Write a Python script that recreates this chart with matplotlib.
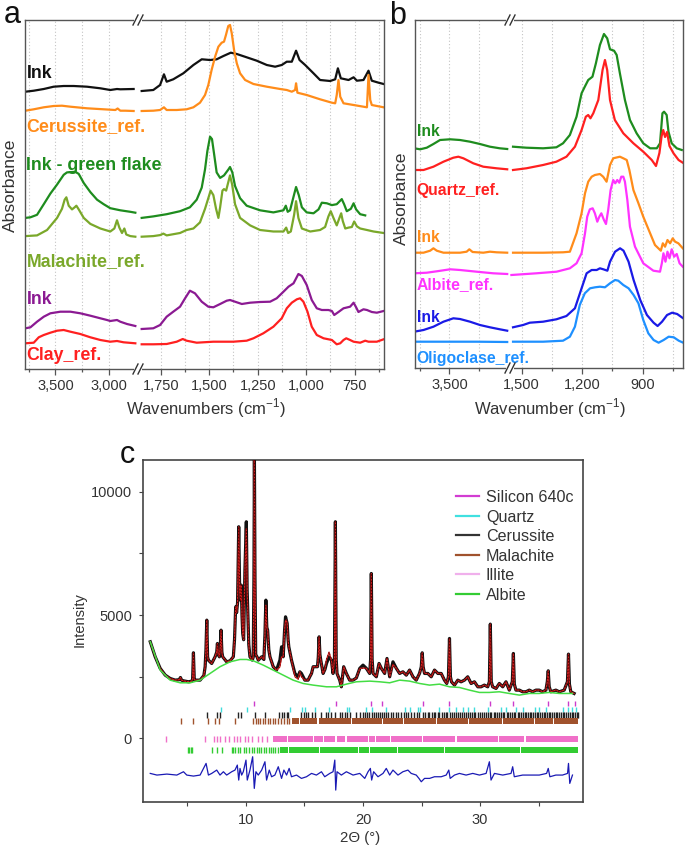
import matplotlib
matplotlib.use("Agg")
import matplotlib.pyplot as plt
from matplotlib.lines import Line2D
from matplotlib.patches import Rectangle
from matplotlib.ticker import FixedLocator

plt.rcParams['font.family'] = ['Liberation Sans', 'DejaVu Sans']
plt.rcParams['mathtext.fontset'] = 'custom'
plt.rcParams['mathtext.rm'] = 'Liberation Sans'

W, H = 685, 851

# ---------------- Panel a data (wavenumber cm-1, absorbance a.u.) ----------------
a_ink1_Lw = [3781, 3703, 3609, 3516, 3422, 3328, 3203, 3078, 2985, 2922, 2891, 2766]
a_ink1_Ly = [277.3, 278.3, 280, 282.3, 283, 283, 282.3, 280.7, 279, 280, 279.7, 280]
a_ink1_Rw = [1849, 1789, 1754, 1734, 1720, 1686, 1634, 1582, 1539, 1496, 1462, 1427, 1389, 1358, 1307, 1255,
             1203, 1160, 1126, 1100, 1074, 1052, 1034, 1005, 962, 928, 876, 850, 836, 821, 781, 755, 738, 704,
             678, 661, 626, 600]
a_ink1_Ry = [278, 279, 284, 294.7, 287.3, 289.7, 295.7, 304, 309.7, 309, 309.7, 313, 316.3, 315, 311.7, 308.3,
             304, 302.3, 304, 307.3, 307.3, 318.3, 309, 304, 295.7, 289, 288, 289.7, 300.7, 290.7, 289, 291.7,
             288.3, 289, 298.3, 288.3, 286.3, 285]

a_cer_Lw = [3781, 3703, 3609, 3516, 3438, 3359, 3203, 3047, 2938, 2916, 2891, 2844, 2766]
a_cer_Ly = [258.3, 259.7, 261.7, 263, 263.3, 262.3, 260.7, 259.7, 259, 260.5, 258.3, 258.3, 258]
a_cer_Rw = [1849, 1789, 1754, 1734, 1720, 1668, 1617, 1582, 1548, 1522, 1505, 1488, 1470, 1453, 1436, 1424,
            1414, 1402, 1393, 1384, 1372, 1358, 1341, 1315, 1272, 1203, 1134, 1100, 1074, 1057, 1052, 1045,
            997, 928, 867, 850, 842, 833, 824, 807, 755, 704, 686, 678, 669, 661, 635, 600]
a_cer_Ry = [258, 258.3, 259, 261.7, 259, 259, 259.7, 261.7, 266.3, 274, 284, 299, 312.3, 322.3, 326.3, 327.3,
            334, 343, 344, 335.7, 319, 305.7, 295.7, 289, 285, 282.3, 280, 279, 277.3, 279, 285.7, 276.3,
            274, 269.7, 266.3, 265.7, 274, 289, 272.3, 265.7, 264, 262.3, 261.7, 294, 269, 264, 263, 261.7]

a_gink_Lw = [3781, 3734, 3672, 3609, 3547, 3484, 3422, 3391, 3313, 3281, 3234, 3172, 3109, 3047, 2985, 2891,
             2797, 2750]
a_gink_Ly = [151.1, 151.7, 154.2, 164.8, 175.4, 184.5, 194.2, 196.6, 197.2, 195.1, 186, 176.9, 169.3, 164.8,
             160.8, 158.7, 157.2, 156.3]
a_gink_Rw = [1849, 1789, 1720, 1651, 1600, 1565, 1539, 1522, 1510, 1496, 1486, 1475, 1462, 1444, 1424, 1401,
             1393, 1381, 1367, 1341, 1307, 1238, 1169, 1117, 1105, 1095, 1083, 1065, 1052, 1038, 1022, 997,
             962, 936, 919, 893, 867, 842, 816, 804, 790, 769, 755, 742, 721, 695]
a_gink_Ry = [151.1, 152.6, 154.8, 157.8, 161.7, 169.3, 181.4, 199.6, 217.8, 232.3, 229.9, 214.8, 196.6, 191.1,
             193.6, 199.6, 202, 196.6, 183, 170.8, 163.3, 158.7, 156.6, 158.7, 163.3, 157.2, 158.7, 172.3, 182,
             173.9, 161.7, 156.6, 155.7, 159.6, 166.3, 165.7, 163.9, 164.8, 169.9, 164.8, 157.8, 160.2, 165.7,
             159.6, 154.8, 153.6]

a_mal_Lw = [3781, 3672, 3578, 3484, 3438, 3413, 3397, 3375, 3344, 3319, 3303, 3281, 3234, 3172, 3078, 2985,
            2947, 2922, 2900, 2875, 2853, 2835, 2797, 2750]
a_mal_Ly = [132.9, 133.6, 139, 151.1, 160.2, 169.3, 171.7, 163.3, 159.6, 161.7, 163.3, 159.6, 151.1, 145.1,
            140.5, 137.5, 140.5, 148.7, 141.4, 136, 140.5, 134.5, 132.9, 132.3]
a_mal_Rw = [1849, 1789, 1754, 1737, 1720, 1651, 1617, 1582, 1548, 1522, 1505, 1493, 1479, 1465, 1453, 1444,
            1432, 1424, 1413, 1403, 1393, 1382, 1367, 1341, 1289, 1238, 1169, 1117, 1103, 1093, 1079, 1062,
            1052, 1040, 1022, 979, 928, 902, 885, 873, 859, 842, 828, 819, 811, 798, 781, 764, 752, 738, 721,
            686, 652, 600]
a_mal_Ry = [132.3, 132.9, 133.9, 135.4, 133.6, 136, 139, 140.5, 146.6, 160.2, 170.8, 178.4, 173.9, 160.2,
            151.1, 161.7, 178.4, 179.9, 178.4, 186, 193.6, 184.5, 164.8, 151.1, 143.6, 139, 137.5, 137.5,
            141.4, 136, 137.5, 154.2, 167.8, 151.1, 140.5, 137.5, 139, 142, 152.6, 157.8, 151.1, 143.6, 151.1,
            155.7, 148.1, 140.5, 141.4, 142, 147.5, 142.6, 140.5, 139, 137.5, 136]

a_pink_Lw = [3781, 3734, 3672, 3609, 3547, 3453, 3359, 3266, 3172, 3078, 3016, 2985, 2922, 2891, 2828, 2750]
a_pink_Ly = [40.7, 41.7, 47.3, 52.3, 55.7, 57.3, 57.3, 55.7, 53.3, 50.7, 49, 48, 49, 47.3, 45, 43]
a_pink_Rw = [1849, 1789, 1754, 1720, 1686, 1651, 1625, 1600, 1574, 1539, 1505, 1479, 1444, 1410, 1393, 1367,
             1332, 1289, 1238, 1186, 1152, 1117, 1091, 1065, 1040, 1022, 997, 971, 945, 919, 885, 867, 855,
             833, 807, 773, 755, 742, 730, 704, 686, 661, 635, 600]
a_pink_Ry = [40, 40.7, 44, 52.3, 57.3, 62.3, 70.7, 78.3, 75.7, 67.3, 62.3, 61.7, 65, 68.3, 69, 67.3, 65, 66.3,
             67, 67.3, 70.7, 77.3, 82.3, 85.7, 95, 93, 84, 69, 60.7, 59, 59, 58, 54, 57, 60.7, 62.3, 66.3, 61.7,
             57, 59.7, 59, 57, 56.3, 58]

a_clay_Lw = [3781, 3703, 3656, 3609, 3547, 3484, 3422, 3359, 3266, 3172, 3078, 2985, 2922, 2860, 2750]
a_clay_Ly = [25.7, 26.3, 31.7, 34, 36.3, 38.3, 39, 37.3, 35, 31.7, 29, 27.3, 28, 26.7, 25.7]
a_clay_Rw = [1849, 1789, 1720, 1668, 1637, 1617, 1565, 1479, 1376, 1307, 1272, 1221, 1169, 1126, 1100, 1074,
             1048, 1031, 1014, 993, 971, 945, 910, 867, 842, 824, 807, 793, 773, 755, 721, 695, 678, 635, 600]
a_clay_Ry = [24.7, 24.7, 25, 27.3, 30, 28.3, 26.3, 27.3, 27.3, 28.3, 30.7, 35.7, 42.3, 50.7, 60.7, 66.3, 69.7,
             70.7, 67.3, 57.3, 42.3, 34, 30.7, 29, 24.7, 25.7, 29, 30.7, 29, 27.3, 26.3, 28.3, 27.3, 27.3, 29.7]

a_labels = ["Ink", "Cerussite_ref.", "Ink - green flake", "Malachite_ref.", "Ink", "Clay_ref."]
a_L_ticks = [3500, 3000]
a_L_ticklabels = ["3,500", "3,000"]
a_L_minor = [3750, 3250]
a_R_ticks = [1750, 1500, 1250, 1000, 750]
a_R_ticklabels = ["1,750", "1,500", "1,250", "1,000", "750"]
a_R_minor = [1625, 1375, 1125, 875, 625]

# ---------------- Panel b data ----------------
b_gink_Lw = [3802, 3751, 3694, 3637, 3580, 3494, 3409, 3323, 3238, 3152, 3067, 3004]
b_gink_Ly = [219.7, 218.7, 220.3, 224, 228, 228.7, 228, 226.3, 224, 221.3, 219.7, 219]
b_gink_Rw = [1543, 1477, 1394, 1328, 1295, 1261, 1228, 1203, 1187, 1170, 1159, 1149, 1132, 1112, 1092, 1076,
             1062, 1042, 1029, 1013, 988, 963, 930, 897, 863, 830, 814, 802, 794, 781, 772, 756, 731, 706]
b_gink_Ry = [221.3, 220.3, 219.7, 220.7, 224.7, 233, 251.3, 274.7, 281.3, 288, 289.7, 291.3, 304.7, 323, 334,
             329.7, 318.7, 317.3, 313, 294.7, 268, 248, 234.7, 224.7, 219.7, 219.7, 224.7, 254.7, 256.3, 253,
             236.3, 224.7, 219.7, 218]

b_qtz_Lw = [3802, 3722, 3637, 3551, 3466, 3423, 3380, 3295, 3209, 3095, 3004]
b_qtz_Ly = [198, 198, 201.3, 206.3, 210.3, 211.3, 209.7, 204.7, 201.3, 199.7, 198.7]
b_qtz_Rw = [1543, 1477, 1394, 1328, 1278, 1236, 1203, 1182, 1170, 1159, 1145, 1120, 1099, 1087, 1076, 1062,
            1038, 996, 946, 897, 855, 834, 817, 806, 798, 789, 779, 767, 747, 722, 701]
b_qtz_Ry = [198, 199.7, 203, 206.3, 211.3, 221.3, 238, 251.3, 253, 249.7, 254.7, 268, 298, 308, 298, 268, 248,
            234.7, 224.7, 216.3, 208, 202, 215, 232, 238, 231, 236, 222, 214.7, 208, 205.3]

b_oink_Lw = [3802, 3722, 3665, 3637, 3608, 3551, 3409, 3352, 3329, 3301, 3209, 3152, 3095, 3004]
b_oink_Ly = [115.3, 115.3, 117.3, 119.7, 117.3, 115.3, 115.3, 116.3, 118.7, 116, 115.3, 116.3, 115.7, 115.3]
b_oink_Rw = [1543, 1394, 1295, 1261, 1228, 1203, 1186, 1170, 1153, 1137, 1112, 1096, 1079, 1062, 1046, 1013,
             996, 979, 966, 946, 921, 897, 863, 839, 810, 800, 789, 777, 764, 751, 739, 723, 701]
b_oink_Ry = [115.3, 115.3, 115.7, 116.3, 134.7, 154.7, 174.7, 186.3, 191.3, 193, 194, 191.3, 186.3, 203, 209.7,
             211.3, 209.7, 208, 198, 178, 164.7, 151.3, 134.7, 123, 117.3, 124.7, 121.3, 128, 124.7, 129.7,
             126.3, 124.7, 119.7]

b_alb_Lw = [3802, 3694, 3608, 3494, 3409, 3266, 3124, 3004]
b_alb_Ly = [94.7, 95.3, 96.7, 98.7, 98, 96.3, 94.7, 94]
b_alb_Rw = [1551, 1427, 1327, 1261, 1228, 1203, 1186, 1175, 1162, 1148, 1137, 1125, 1115, 1105, 1092, 1082,
            1071, 1059, 1046, 1036, 1026, 1016, 1006, 996, 988, 976, 963, 938, 897, 847, 814, 805, 797, 787,
            777, 767, 756, 744, 731, 717, 701]
b_alb_Ry = [93, 94.7, 96.3, 99.7, 104.7, 114.7, 134.7, 151.3, 158.7, 159.7, 154.7, 146.3, 151.3, 154.7, 148,
            144, 158, 178, 188, 184.7, 188, 185.3, 191.3, 191.3, 186.3, 168, 141.3, 121.3, 104.7, 97.3, 96.3,
            104.7, 114.7, 106.3, 116.3, 109.7, 118.7, 111.3, 114, 104.7, 101.3]

b_bink_Lw = [3802, 3722, 3637, 3551, 3466, 3409, 3323, 3238, 3152, 3067, 3004]
b_bink_Ly = [36.3, 38, 41.3, 46.3, 49.7, 49, 46.3, 43, 40.7, 38.7, 37.3]
b_bink_Rw = [1543, 1493, 1460, 1394, 1328, 1278, 1236, 1203, 1178, 1153, 1128, 1112, 1095, 1075, 1062, 1037,
             1012, 995, 970, 945, 912, 879, 846, 826, 804, 779, 754, 729, 699]
b_bink_Ry = [40.7, 43, 45.3, 46.3, 48.7, 52, 59.7, 79.7, 94.7, 98, 98, 99.7, 98.7, 97.3, 106.3, 116.3, 119.7,
             117.3, 106.3, 88, 68, 53, 45.3, 42, 46.3, 53, 55.3, 54, 49.7]

b_olig_Lw = [3802, 3551, 3266, 3004]
b_olig_Ly = [26.3, 26.3, 26.3, 26]
b_olig_Rw = [1543, 1394, 1295, 1261, 1236, 1212, 1187, 1161, 1136, 1112, 1087, 1062, 1037, 1021, 996, 970, 945,
             921, 897, 872, 846, 821, 796, 771, 746, 721, 699]
b_olig_Ry = [26.3, 26.3, 27.3, 31.3, 41.3, 63, 74.7, 79.7, 80.7, 81.3, 80.7, 84.7, 88, 87.3, 83, 79.7, 73, 64.7,
             48, 34.7, 28, 25.3, 28, 31.3, 30.7, 27.3, 25.3]

b_labels = ["Ink", "Quartz_ref.", "Ink", "Albite_ref.", "Ink", "Oligoclase_ref."]
b_L_ticks = [3500]
b_L_ticklabels = ["3,500"]
b_L_minor = [3750, 3250]
b_R_ticks = [1500, 1200, 900]
b_R_ticklabels = ["1,500", "1,200", "900"]
b_R_minor = [1350, 1050, 750]

# ---------------- Panel c data (2theta deg, intensity) ----------------
xrd_2theta = [1.82, 2.24, 2.67, 3.10, 3.52, 3.95, 4.30, 4.40, 4.50, 4.66,
              5.09, 5.37, 5.44, 5.51, 5.58, 5.65, 6.08, 6.40, 6.51, 6.58,
              6.65, 6.72, 6.79, 7.07, 7.36, 7.50, 7.56, 7.63, 7.73, 7.80,
              7.87, 7.94, 8.01, 8.35, 8.64, 8.92, 9.02, 9.12, 9.20, 9.28,
              9.38, 9.46, 9.53, 9.60, 9.66, 9.72, 9.80, 9.91, 10.03, 10.10,
              10.16, 10.24, 10.34, 10.54, 10.62, 10.68, 10.72, 10.77, 10.83, 10.95,
              11.05, 11.34, 11.53, 11.62, 11.70, 11.78, 11.85, 11.95, 12.05, 12.33,
              12.61, 12.90, 13.04, 13.18, 13.30, 13.38, 13.45, 13.52, 13.60, 13.66,
              13.89, 14.18, 14.46, 14.60, 14.74, 15.03, 15.31, 15.45, 15.60, 15.74,
              15.94, 16.11, 16.18, 16.25, 16.32, 16.39, 16.59, 16.75, 16.88, 17.10,
              17.30, 17.44, 17.56, 17.64, 17.71, 17.78, 18.01, 18.15, 18.25, 18.35,
              18.58, 18.86, 19.15, 19.43, 19.72, 20.00, 20.29, 20.57, 20.65, 20.71,
              20.78, 20.86, 21.14, 21.37, 21.57, 21.85, 22.05, 22.28, 22.56, 22.85,
              23.13, 23.41, 23.70, 23.98, 24.27, 24.55, 24.83, 24.98, 25.06, 25.14,
              25.26, 25.54, 25.83, 26.11, 26.40, 26.68, 26.96, 27.16, 27.30, 27.39,
              27.47, 27.56, 27.82, 28.10, 28.38, 28.67, 28.95, 29.24, 29.52, 29.81,
              30.09, 30.37, 30.66, 30.80, 30.88, 30.96, 31.08, 31.37, 31.65, 31.94,
              32.22, 32.50, 32.76, 32.85, 32.93, 33.07, 33.36, 33.64, 33.92, 34.21,
              34.49, 34.78, 35.06, 35.34, 35.63, 35.75, 35.83, 35.91, 36.05, 36.48,
              36.77, 37.19, 37.47, 37.56, 37.64, 37.76, 38.04]
xrd_obs = [3917, 3311, 2838, 2565, 2430, 2362, 2380, 2470, 2360, 2335,
           2295, 2322, 2400, 3471, 2400, 2362, 2362, 2550, 2906, 3600,
           4795, 3300, 3173, 3038, 3308, 3500, 3849, 3400, 3308, 3700,
           4390, 3500, 3308, 3105, 3146, 3308, 4000, 5336, 5100, 5500,
           8582, 6000, 5600, 6214, 5000, 4254, 4000, 6822, 8785, 6000,
           5000, 3800, 3308, 3173, 3300, 6500, 11400, 6500, 3400, 3300,
           3173, 3308, 3200, 4200, 5606, 4500, 4390, 3600, 3308, 2906,
           2768, 3173, 3714, 3308, 4400, 4930, 4800, 4660, 4000, 3714,
           3173, 2633, 2500, 2700, 2633, 2362, 2362, 2500, 2633, 2906,
           2906, 2906, 3300, 4119, 3400, 3173, 2633, 2800, 3038, 3308,
           3173, 2633, 3200, 8785, 3200, 2633, 2362, 2092, 2500, 2906,
           2633, 2362, 2362, 2450, 2838, 2970, 2838, 2633, 3200, 6687,
           3200, 2633, 2498, 3038, 2838, 2633, 3241, 2498, 3105, 2838,
           2633, 2700, 2565, 2770, 2498, 2362, 2633, 2900, 3471, 2900,
           2633, 2633, 2498, 2770, 2633, 2633, 2362, 2227, 2500, 4052,
           2500, 2295, 2160, 2362, 2295, 2362, 2498, 2227, 2295, 2092,
           2092, 2160, 2092, 2300, 4633, 2300, 2092, 2025, 2227, 2092,
           2295, 1957, 2300, 3443, 2200, 1957, 1957, 1890, 1890, 1957,
           1890, 1957, 1957, 1890, 1957, 2300, 2741, 2100, 1890, 1957,
           1890, 1957, 2300, 3417, 2200, 1890, 1822]
xrd_calc = [3917, 3311, 2838, 2565, 2430, 2362, 2380, 2470, 2360, 2335,
            2295, 2322, 2400, 3471, 2400, 2362, 2362, 2550, 2906, 3600,
            4795, 3300, 3173, 3038, 3308, 3500, 3849, 3400, 3308, 3700,
            4390, 3500, 3308, 3105, 3146, 3308, 4000, 5336, 5100, 5500,
            8582, 6000, 5600, 6214, 5000, 4254, 4000, 6822, 8500, 6000,
            5000, 3800, 3308, 3173, 3300, 6500, 11400, 6500, 3400, 3300,
            3173, 3308, 3200, 4200, 5400, 4500, 4390, 3600, 3308, 2906,
            2768, 2900, 3300, 3308, 4400, 4750, 4800, 4660, 4000, 3714,
            3173, 2500, 2400, 2700, 2500, 2362, 2362, 2500, 2633, 2906,
            2906, 2906, 3300, 4119, 3400, 3173, 2633, 2800, 3200, 3500,
            3173, 2633, 3200, 8785, 3200, 2633, 2362, 2092, 2500, 2906,
            2633, 2362, 2362, 2450, 2838, 2850, 2838, 2633, 3200, 6687,
            3200, 2633, 2498, 3038, 2838, 2633, 3241, 2498, 3000, 2838,
            2633, 2700, 2565, 2770, 2498, 2362, 2633, 2900, 3471, 2900,
            2633, 2633, 2498, 2770, 2633, 2633, 2362, 2227, 2500, 4052,
            2500, 2295, 2160, 2362, 2295, 2362, 2498, 2227, 2295, 2092,
            2092, 2160, 2092, 2300, 4633, 2300, 2092, 2025, 2227, 2092,
            2295, 1957, 2300, 3443, 2200, 1957, 1957, 1890, 1890, 1957,
            1890, 1957, 1957, 1890, 1957, 2300, 2741, 2100, 1890, 1957,
            1890, 1957, 2300, 3417, 2200, 1890, 1822]

bg_2theta = [1.82, 2.67, 3.52, 4.38, 5.23, 6.08, 6.93, 7.78, 8.64, 9.49, 10.06, 10.63, 11.48, 12.33, 13.18,
             14.03, 14.88, 15.74, 16.88, 17.73, 18.58, 19.43, 20.57, 21.42, 22.28, 23.13, 23.98, 24.83, 25.69,
             26.54, 27.39, 28.24, 29.10, 29.95, 30.80, 31.65, 32.50, 33.36, 34.21, 35.06, 35.91, 36.77, 37.90]
bg_I = [3917, 2770, 2362, 2254, 2254, 2362, 2633, 2906, 3105, 3200, 3200, 3146, 2970, 2768, 2565, 2362, 2227,
        2160, 2092, 2092, 2200, 2295, 2322, 2295, 2254, 2362, 2322, 2227, 2160, 2200, 2092, 2065, 1957, 1863,
        1863, 1890, 1822, 1755, 1822, 1822, 1863, 1822, 1822]

diff_2theta = [1.82, 2.39, 3.24, 4.09, 4.66, 4.94, 5.51, 6.08, 6.59, 6.79,
               7.07, 7.50, 7.78, 8.07, 8.35, 8.78, 9.06, 9.26, 9.38, 9.49,
               9.63, 9.77, 10.00, 10.11, 10.34, 10.57, 10.71, 10.85, 11.05, 11.34,
               11.62, 11.76, 11.99, 12.19, 12.47, 12.76, 13.04, 13.24, 13.47, 13.69,
               13.89, 14.32, 14.74, 15.17, 15.60, 16.02, 16.45, 16.73, 17.16, 17.44,
               17.59, 17.67, 17.78, 18.15, 18.58, 19.15,
               19.72, 20.15, 20.43, 20.63, 20.74, 20.91, 21.28, 21.71, 21.99, 22.28,
               22.56, 22.99, 23.41, 23.84, 24.12, 24.55, 24.78, 24.98, 25.26, 25.69,
               26.11, 26.68, 27.11, 27.33, 27.45, 27.82, 28.24, 28.81, 29.38, 29.95,
               30.52, 30.80, 30.94, 31.23, 31.94, 32.65, 32.79, 32.93, 33.64, 34.49,
               35.06, 35.69, 35.83, 35.97, 36.48, 37.05, 37.48, 37.56, 37.67, 37.90]
diff_I = [-1421, -1488, -1448, -1488, -1353, -1488, -1529, -1488, -1015, -1488,
          -1421, -1286, -1488, -1353, -1488, -1353, -1286, -1083, -1691, -1218,
          -1488, -1353, -880, -1691, -1286, -745, -2029, -1353, -1488, -1286,
          -948, -1691, -1286, -1556, -1488, -1150, -1623, -1286, -1488, -1218,
          -1556, -1488, -1623, -1556, -1421, -1488, -1353, -1556, -1421, -1353,
          -880, -2097, -1353, -1488, -1353, -1488,
          -1421, -1623, -1353, -1218, -1691, -1353, -1556, -1421, -1218, -1488,
          -1286, -1488, -1353, -1286, -1421, -1488, -1623, -1759, -1623, -1623,
          -1556, -1556, -1488, -1286, -1623, -1488, -1421, -1488, -1421, -1488,
          -1421, -948, -1691, -1421, -1488, -1421, -1150, -1556, -1488, -1488,
          -1488, -1421, -1218, -1556, -1488, -1488, -1421, -1015, -1826, -1488]

si_pos = [10.71, 17.65, 20.72, 21.65, 25.12, 27.39, 30.89, 32.85, 35.83, 37.56, 38.13]
qz_pos = [7.84, 10.06, 13.75, 14.80, 15.08, 15.88, 17.07, 18.64, 18.78, 20.28, 20.80, 22.00, 23.56, 23.98,
          24.69, 24.83, 26.48, 27.33, 27.96, 28.53, 28.95, 29.52, 30.66, 31.79, 32.22, 33.07, 33.64, 34.72,
          35.06, 35.63, 37.11, 37.48, 37.90, 38.24]
cer_pos = [6.65, 7.56, 7.78, 9.35, 9.55, 10.77, 11.62, 12.84, 13.04, 13.24, 13.47, 13.61, 14.74, 14.94, 15.17,
           15.31, 15.60, 15.88, 16.45, 16.88, 17.02, 17.30, 17.58, 18.01, 18.24, 18.44, 18.64, 18.86, 19.43,
           19.72, 20.02, 20.21, 20.38, 20.55, 20.74, 20.93, 21.08, 21.31, 21.43, 21.62, 21.78, 21.95, 22.12,
           22.41, 22.58, 22.83, 22.97, 23.22, 23.48, 23.71, 23.88, 24.14, 24.37, 24.62, 24.81, 25.09, 25.28,
           25.52, 25.68, 25.86, 26.03, 26.18, 26.37, 26.52, 26.71, 26.88, 27.06, 27.22, 27.41, 27.63, 27.79,
           27.94, 28.12, 28.28, 28.47, 28.62, 28.79, 28.96, 29.13, 29.28, 29.47, 29.61, 29.82, 29.98, 30.17,
           30.31, 30.52, 30.64, 30.83, 30.98, 31.16, 31.29, 31.47, 31.62, 31.78, 31.96, 32.08, 32.27, 32.41,
           32.58, 32.74, 32.92, 33.03, 33.21, 33.37, 33.49, 33.66, 33.81, 33.93, 34.12, 34.24, 34.38, 34.52,
           34.69, 34.83, 34.98, 35.12, 35.27, 35.43, 35.58, 35.72, 35.88, 36.02, 36.19, 36.33, 36.48, 36.61,
           36.77, 36.92, 37.06, 37.21, 37.37, 37.52, 37.68, 37.83, 37.97, 38.12, 38.26, 38.38]
mal_pos = [4.43, 5.51, 6.79, 7.36, 7.70, 9.06, 10.63, 10.85, 11.02, 11.21, 11.42, 11.62, 11.86, 12.06, 12.31,
           12.52, 12.77, 12.96, 13.22, 13.47, 13.71]
mal_spans = [(13.9, 14.55), (14.65, 16.1), (16.2, 19.0), (19.1, 21.6), (21.7, 23.4), (23.5, 26.2),
             (26.3, 29.0), (29.1, 31.9), (32.0, 34.6), (34.7, 36.2), (36.3, 38.4)]
ill_pos = [3.18, 6.51, 7.27, 7.50, 7.80, 8.20, 8.58, 8.98, 9.20, 9.45, 9.90, 10.20, 10.48, 11.05, 11.40, 11.76]
ill_spans = [(12.3, 13.5), (13.6, 15.7), (15.8, 16.6), (16.7, 17.6), (17.75, 18.5), (18.65, 20.4),
             (20.5, 21.0), (21.15, 22.3), (22.4, 25.0), (25.1, 27.9), (28.0, 31.5), (31.6, 33.8), (33.9, 38.4)]
alb_pos = [5.02, 5.14, 5.27, 5.42, 7.07, 7.50, 7.98, 8.78, 8.92, 9.06, 9.35, 9.52, 9.80, 9.98, 10.30, 10.50,
           10.72, 10.92, 11.12, 11.30, 11.52, 11.72, 11.93, 12.12, 12.30, 12.52, 12.71]
alb_spans = [(12.9, 13.55), (13.65, 16.2), (16.3, 19.6), (19.7, 20.5), (20.6, 22.9), (23.0, 26.9),
             (27.0, 33.4), (33.5, 38.4)]

phase_names = ["Silicon 640c", "Quartz", "Cerussite", "Malachite", "Illite", "Albite"]
c_xticks = [10, 20, 30]
c_xminor = [5, 15, 25, 35]
c_yticks = [0, 5000, 10000]
c_yminor = [2500, 7500]

# ---------------- helpers ----------------
fig = plt.figure(figsize=(W / 100, H / 100), dpi=100)


def px_axes(left, top, width, height):
    return fig.add_axes([left / W, 1 - (top + height) / H, width / W, height / H])


def ftext(x, y, s, **kw):
    return fig.text(x / W, 1 - y / H, s, **kw)


SPINE = '#555555'
TXT = '#333333'
GRID = '#c4c4c4'


def style_axis(ax, xlim, ylim, major, labels, minor, hide):
    ax.set_xlim(*xlim)
    ax.set_ylim(*ylim)
    ax.set_yticks([])
    ax.set_xticks(major)
    ax.set_xticklabels(labels)
    ax.xaxis.set_minor_locator(FixedLocator(minor))
    ax.tick_params(axis='x', which='major', direction='out', length=4, width=0.9, color=SPINE,
                   labelsize=10.5, labelcolor=TXT, pad=3)
    ax.tick_params(axis='x', which='minor', direction='out', length=2.5, width=0.9, color=SPINE)
    for s in ax.spines.values():
        s.set_color(SPINE)
        s.set_linewidth(1.0)
    ax.spines[hide].set_visible(False)
    for v in list(major) + list(minor):
        ax.axvline(v, color=GRID, lw=0.8, ls=(0, (1, 2)), zorder=0)


def break_mark(xp, yp):
    fig.add_artist(Rectangle(((xp - 4) / W, 1 - (yp + 2) / H), 8 / W, 4 / H, transform=fig.transFigure,
                             facecolor='white', edgecolor='none', zorder=20))
    for dx in (-2.5, 2.5):
        fig.add_artist(Line2D([(xp + dx - 2.5) / W, (xp + dx + 2.5) / W], [1 - (yp + 5) / H, 1 - (yp - 5) / H],
                              transform=fig.transFigure, color='#333333', lw=1.0, zorder=21))


# ---------------- Panel a ----------------
aL = px_axes(25, 20, 113, 349)
aR = px_axes(138, 20, 246, 349)
style_axis(aL, (3785, 2725), (0, 349), a_L_ticks, a_L_ticklabels, a_L_minor, 'right')
style_axis(aR, (1868, 598), (0, 349), a_R_ticks, a_R_ticklabels, a_R_minor, 'left')

a_cols = ['#111111', '#ff8c1a', '#1e8c1e', '#7aa82a', '#8b1a92', '#ff2020']
a_series = [(a_ink1_Lw, a_ink1_Ly, a_ink1_Rw, a_ink1_Ry), (a_cer_Lw, a_cer_Ly, a_cer_Rw, a_cer_Ry),
            (a_gink_Lw, a_gink_Ly, a_gink_Rw, a_gink_Ry), (a_mal_Lw, a_mal_Ly, a_mal_Rw, a_mal_Ry),
            (a_pink_Lw, a_pink_Ly, a_pink_Rw, a_pink_Ry), (a_clay_Lw, a_clay_Ly, a_clay_Rw, a_clay_Ry)]
for (lw_, ly_, rw_, ry_), col in zip(a_series, a_cols):
    aL.plot(lw_, ly_, color=col, lw=1.6)
    aR.plot(rw_, ry_, color=col, lw=1.6)

a_label_y = [73, 127, 165, 262, 300, 355]
for s, col, yy in zip(a_labels, a_cols, a_label_y):
    ftext(26.5, yy, s, color=col, fontsize=12.8, fontweight='bold', ha='left', va='center')

break_mark(138, 20)
break_mark(138, 369)

# ---------------- Panel b ----------------
bL = px_axes(415, 20, 95, 348)
bR = px_axes(510, 20, 173, 348)
style_axis(bL, (3795, 2980), (0, 348), b_L_ticks, b_L_ticklabels, b_L_minor, 'right')
style_axis(bR, (1558, 700), (0, 348), b_R_ticks, b_R_ticklabels, b_R_minor, 'left')

b_cols = ['#1e8c1e', '#ff2020', '#ff8c1a', '#ff33ff', '#1a1ae6', '#1e90ff']
b_series = [(b_gink_Lw, b_gink_Ly, b_gink_Rw, b_gink_Ry), (b_qtz_Lw, b_qtz_Ly, b_qtz_Rw, b_qtz_Ry),
            (b_oink_Lw, b_oink_Ly, b_oink_Rw, b_oink_Ry), (b_alb_Lw, b_alb_Ly, b_alb_Rw, b_alb_Ry),
            (b_bink_Lw, b_bink_Ly, b_bink_Rw, b_bink_Ry), (b_olig_Lw, b_olig_Ly, b_olig_Rw, b_olig_Ry)]
for (lw_, ly_, rw_, ry_), col in zip(b_series, b_cols):
    bL.plot(lw_, ly_, color=col, lw=1.6)
    bR.plot(rw_, ry_, color=col, lw=1.6)

b_label_y = [132, 191, 237, 285, 318, 358]
for s, col, yy in zip(b_labels, b_cols, b_label_y):
    ftext(416.5, yy, s, color=col, fontsize=11.3, fontweight='bold', ha='left', va='center')

break_mark(510, 20)
break_mark(510, 368)

# axis labels a/b
ftext(206, 408, r'Wavenumbers (cm$^{\mathregular{-1}}$)', fontsize=12, color=TXT, ha='center', va='center')
ftext(550, 408, r'Wavenumber (cm$^{\mathregular{-1}}$)', fontsize=12, color=TXT, ha='center', va='center')
ftext(10, 185, 'Absorbance', fontsize=12.6, color=TXT, rotation=90, ha='center', va='center')
ftext(401, 198, 'Absorbance', fontsize=12.6, color=TXT, rotation=90, ha='center', va='center')

# ---------------- Panel c ----------------
c = px_axes(143, 460, 440, 341.5)
c.set_xlim(1.2, 38.8)
c.set_ylim(-2560, 11290)
c.set_xticks(c_xticks)
c.set_yticks(c_yticks)
c.xaxis.set_minor_locator(FixedLocator(c_xminor))
c.yaxis.set_minor_locator(FixedLocator(c_yminor))
c.tick_params(which='both', direction='out', length=3, width=0.8, color='#444444', labelsize=10.5,
              labelcolor=TXT, pad=5)
for s in c.spines.values():
    s.set_color('#444444')
    s.set_linewidth(1.2)

c.plot(xrd_2theta, xrd_obs, color='#111111', lw=2.3, zorder=3)
c.plot(xrd_2theta, xrd_calc, color='#d42020', lw=0.9, zorder=4)
c.plot(xrd_2theta, xrd_calc, color='#6a0000', lw=0.8, ls=(0, (1, 1.8)), zorder=5)
c.plot(bg_2theta, bg_I, color='#44dd44', lw=1.1, zorder=6)
c.plot(diff_2theta, diff_I, color='#1a1ab4', lw=0.9, zorder=3)

phase_cols = ['#cc3ccc', '#40dcdc', '#222222', '#a0522d', '#f070c8', '#33cc33']
legend_cols = ['#d23cd2', '#40e0e0', '#333333', '#a0522d', '#f0b0ec', '#33cc33']
rows = [(1310, 1525), (1067, 1283), (838, 1054), (581, 811), (-137, 95), (-608, -365)]
tick_lists = [si_pos, qz_pos, cer_pos, mal_pos, ill_pos, alb_pos]
span_lists = [None, None, None, mal_spans, ill_spans, alb_spans]
for pos, spans, (y0, y1), col in zip(tick_lists, span_lists, rows, phase_cols):
    c.vlines(pos, y0, y1, colors=col, lw=1.0, zorder=2)
    if spans:
        c.broken_barh([(s0, s1 - s0) for s0, s1 in spans], (y0, y1 - y0), facecolors=col, zorder=2)

handles = [Line2D([0], [0], color=col, lw=1.6) for col in legend_cols]
c.legend(handles, phase_names, loc='upper left', bbox_to_anchor=(456 / W, 1 - 490 / H),
         bbox_transform=fig.transFigure, frameon=False, fontsize=11.6, labelspacing=0.28,
         handlelength=1.4, handletextpad=0.45, borderpad=0, borderaxespad=0, labelcolor=TXT)

ftext(80, 620, 'Intensity', fontsize=10.5, color=TXT, rotation=90, ha='center', va='center')
ftext(360, 838, '2Θ (°)', fontsize=10.8, color=TXT, ha='center', va='center')

# panel letters
ftext(12, 15, 'a', fontsize=22, color='#111111', ha='center', va='center')
ftext(398, 1, 'b', fontsize=22, color='#111111', ha='center', va='top')
ftext(127, 455, 'c', fontsize=22, color='#111111', ha='center', va='center')

fig.savefig('out.png', dpi=100)
